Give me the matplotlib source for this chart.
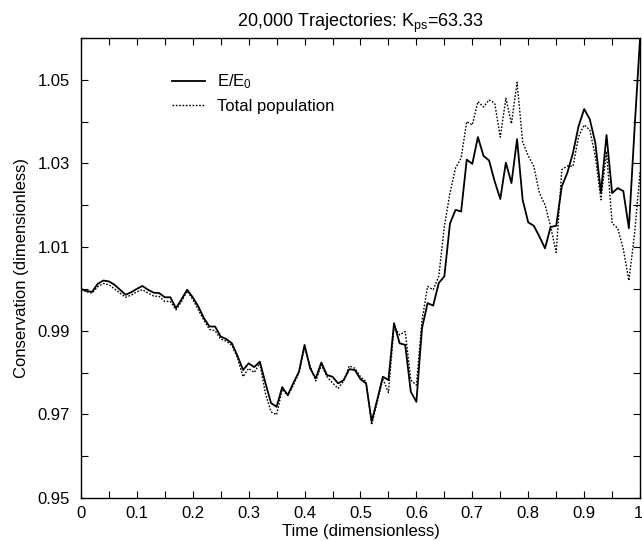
"""
    conservation.py
    E/E0 and total population vs time, 20,000 trajectories
"""

import matplotlib

matplotlib.use("Agg")
import matplotlib.pyplot as plt
from matplotlib.ticker import MultipleLocator, FixedLocator, FuncFormatter

plt.rcParams["font.family"] = ["Liberation Sans", "DejaVu Sans"]
plt.rcParams["mathtext.fontset"] = "custom"
plt.rcParams["mathtext.rm"] = "Liberation Sans"
plt.rcParams["mathtext.it"] = "Liberation Sans:italic"

# time samples, 0 .. 1 in steps of 0.01
time = [i / 100 for i in range(101)]

energy = [
    1.0000, 0.9995, 0.9993, 1.0012, 1.0020, 1.0018, 1.0010, 0.9998, 0.9986, 0.9992,
    1.0000, 1.0007, 0.9998, 0.9991, 0.9990, 0.9980, 0.9980, 0.9954, 0.9975, 0.9998,
    0.9980, 0.9958, 0.9930, 0.9910, 0.9910, 0.9886, 0.9880, 0.9870, 0.9840, 0.9806,
    0.9822, 0.9813, 0.9826, 0.9775, 0.9727, 0.9718, 0.9765, 0.9746, 0.9775, 0.9802,
    0.9866, 0.9810, 0.9786, 0.9824, 0.9794, 0.9790, 0.9774, 0.9782, 0.9808, 0.9806,
    0.9784, 0.9774, 0.9683, 0.9735, 0.9790, 0.9782, 0.9918, 0.9870, 0.9866, 0.9754,
    0.9730, 0.9906, 0.9966, 0.9960, 1.0014, 1.0030, 1.0156, 1.0189, 1.0185, 1.0309,
    1.0299, 1.0363, 1.0318, 1.0307, 1.0257, 1.0215, 1.0302, 1.0253, 1.0358, 1.0213,
    1.0159, 1.0151, 1.0125, 1.0097, 1.0148, 1.0151, 1.0245, 1.0278, 1.0325, 1.0389,
    1.0430, 1.0406, 1.0349, 1.0230, 1.0368, 1.0229, 1.0241, 1.0234, 1.0145, 1.0380,
    1.0600,
]

population = [
    1.0000, 0.9993, 0.9990, 1.0005, 1.0013, 1.0010, 1.0000, 0.9990, 0.9980, 0.9985,
    0.9993, 0.9998, 0.9990, 0.9983, 0.9982, 0.9970, 0.9970, 0.9950, 0.9970, 0.9995,
    0.9975, 0.9950, 0.9925, 0.9903, 0.9900, 0.9880, 0.9875, 0.9865, 0.9835, 0.9790,
    0.9810, 0.9800, 0.9822, 0.9750, 0.9706, 0.9699, 0.9760, 0.9745, 0.9770, 0.9800,
    0.9860, 0.9815, 0.9780, 0.9818, 0.9790, 0.9775, 0.9762, 0.9780, 0.9816, 0.9810,
    0.9790, 0.9778, 0.9675, 0.9730, 0.9785, 0.9752, 0.9910, 0.9890, 0.9898, 0.9782,
    0.9770, 0.9925, 1.0006, 0.9998, 1.0030, 1.0149, 1.0229, 1.0289, 1.0313, 1.0400,
    1.0392, 1.0448, 1.0435, 1.0452, 1.0444, 1.0363, 1.0456, 1.0395, 1.0494, 1.0352,
    1.0318, 1.0293, 1.0229, 1.0201, 1.0149, 1.0087, 1.0285, 1.0294, 1.0293, 1.0364,
    1.0392, 1.0380, 1.0317, 1.0213, 1.0329, 1.0157, 1.0145, 1.0095, 1.0020, 1.0130,
    1.0280,
]

x_labels = [0, 0.1, 0.2, 0.3, 0.4, 0.5, 0.6, 0.7, 0.8, 0.9]
y_labels = [0.95, 0.97, 0.99, 1.01, 1.03, 1.05]


def plot_conservation():
    fig = plt.figure(figsize=(6.42, 5.41), dpi=100)
    fig.patch.set_facecolor("white")
    ax = fig.add_axes([0.126, 0.0795, 0.871, 0.8503])

    ax.plot(time, energy, color="black", linewidth=1.3, label="E/E$_0$")
    ax.plot(
        time,
        population,
        color="black",
        linewidth=1.0,
        linestyle=(0, (1.2, 1.2)),
        label="Total population",
    )

    ax.set_xlim(0, 1)
    ax.set_ylim(0.95, 1.06)

    ax.xaxis.set_major_locator(FixedLocator(x_labels))
    ax.xaxis.set_minor_locator(MultipleLocator(0.05))
    ax.xaxis.set_major_formatter(FuncFormatter(lambda v, p: "%g" % round(v, 2)))
    ax.yaxis.set_major_locator(FixedLocator(y_labels))
    ax.yaxis.set_minor_locator(MultipleLocator(0.01))
    ax.yaxis.set_major_formatter(FuncFormatter(lambda v, p: "%.2f" % v))

    ax.tick_params(
        which="both", direction="in", top=True, right=True, labelsize=12, width=0.8
    )
    ax.tick_params(which="major", length=5)
    ax.tick_params(which="minor", length=5)
    ax.tick_params(axis="x", which="major", pad=6)
    ax.tick_params(axis="y", which="major", pad=8)
    for spine in ax.spines.values():
        spine.set_linewidth(1.0)

    # the "1" label sits on the figure edge, right-aligned so it stays inside
    ax.annotate(
        "1",
        xy=(1.0, 0),
        xycoords="axes fraction",
        xytext=(2, -6),
        textcoords="offset points",
        ha="right",
        va="top",
        fontsize=12,
    )

    ax.set_title(r"20,000 Trajectories: K$_{\mathrm{ps}}$=63.33", fontsize=13, pad=8)
    ax.set_xlabel("Time (dimensionless)", fontsize=12, labelpad=2)
    ax.set_ylabel("Conservation (dimensionless)", fontsize=12, labelpad=6)

    ax.legend(
        loc="upper left",
        bbox_to_anchor=(0.163, 0.925),
        borderaxespad=0,
        borderpad=0,
        frameon=False,
        fontsize=12,
        handlelength=2.0,
        handletextpad=0.7,
        labelspacing=0.45,
    )

    plt.savefig("out.png", dpi=100)


if __name__ == "__main__":
    plot_conservation()
